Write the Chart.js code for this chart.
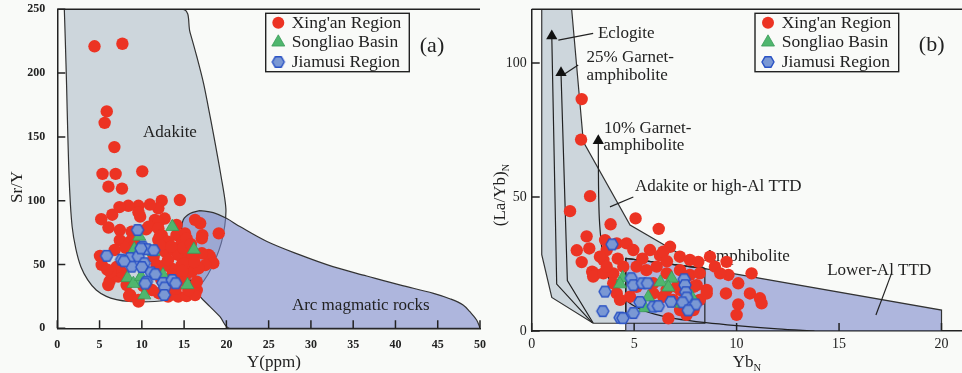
<!DOCTYPE html>
<html><head><meta charset="utf-8">
<script src="https://cdn.jsdelivr.net/npm/chart.js@4.4.1/dist/chart.umd.min.js"></script>
<style>
html,body{margin:0;padding:0;background:#f9faf8;}
#wrap{position:relative;width:962px;height:373px;overflow:hidden;}
#ca{position:absolute;left:0;top:0;}
#cb{position:absolute;left:484px;top:0;}
</style></head>
<body><div id="wrap"><canvas id="ca" width="490" height="373"></canvas><canvas id="cb" width="478" height="373"></canvas></div>
<script>
// ---------- Panel (a): Sr/Y vs Y ----------
const xinganA = [[4.4,221],[7.7,223],[5.85,170],[5.6,161],[6.75,142],[5.35,121],[6.9,121],[10.05,123],[6.05,111],[7.65,109.5],
[14.5,100.5],[12.35,100],[11.95,94],[10.95,97],[9.6,96],[8.4,96],[7.35,95],[6.5,89],[5.2,85.5],[6.05,79],
[9.8,87.5],[9.6,91],[12.7,86],[11.55,85],[11.95,83],[14.1,81],[16.9,82.3],[16.3,85],[17.15,73],[19.1,74.4],
[10.5,77.5],[10.8,79.6],[7.4,77],[8.8,75.7],[7.4,69],[8.6,68],[6.8,61.4],[11.95,78.4],[12.35,73],[14.1,73],[15.1,74.4],
[12.1,71.8],[11.95,69.2],[13.1,67.9],[14.7,66.6],[15.3,70.5],[17.1,70.5],
[5.05,56.7],[5.25,49.7],[6.2,37],[6.03,33.9],[7.2,40.5],[8.2,33.9],[8.6,26.1],[8.5,25.5],[9.6,21],[9.6,22.2],
[12.0,27.5],[13.1,24.8],[14.3,24.8],[14.1,26],[15.3,25.3],[16.5,30],[16.3,26.1],[16.3,33.9],[15.5,30],
[18.3,52],[17.9,57.5],[18.06,56.2],[18.45,51],[17.5,49.6],[17.1,58.8],
[12.74,60],[13.72,61.4],[14.3,57.5],[15.1,61.4],[15.5,54.9],[14.7,49.6],[13.5,47],[12.74,49.6],[13.7,41.8],[15.1,40.5],[15.9,44.4],[16.7,47],[16.5,36.5],
[11.4,56],[11.75,49.6],[15.1,50.9],[13.1,53.5],[14.3,36.5],[13.1,33.9],[12.2,65],[13.5,64],[14.9,63],[16.0,58],[16.2,52],[12.0,44],[11.2,30],[14.8,45],[15.8,66],[12.3,38],[14.0,31],[10.2,33],[7.6,44],[7.0,48],[8.1,63],[9.2,66],[6.3,44],[5.9,46]];
const songliaoA = [[13.6,79.6],[9.7,72],[9.1,62],[16.15,61.7],[11.4,60],[8.3,39.5],[9.6,36.5],[9.0,35],[9.9,40.5],[10.3,26],[15.4,34],[12.5,41.8]];
const jiamusiA = [[9.5,77],[5.84,56.8],[7.6,53.8],[8.6,55],[9.58,56.3],[8.8,48.3],[10.1,64],[10.6,62],[11.4,61.2],[10.3,51],[10.0,48],[11.1,43.8],[11.6,42.4],[10.55,36.5],[10.4,35.1],[12.5,35.6],[12.7,32],[12.65,26.1],[13.6,37.9],[14.0,35.3],[7.9,52.5],[9.9,62.6]];
const adakiteFieldA = [[0.83,250],[0.95,225],[1.1,190],[1.25,150],[1.45,110],[1.75,80],[2.2,62],[2.8,48],[3.6,38],[4.6,30],[5.8,25],[7.0,22.5],[8.5,21],[10,20.7],[11.5,21],[12.8,21.8],[14.3,23.5],[15.6,27],[16.8,33],[17.8,42],[18.7,54],[19.4,67],[19.8,80],[19.95,92],[19.8,102],[19.4,118],[18.95,135],[18.45,153],[17.9,172],[17.3,192],[16.5,213],[15.7,232],[14.9,250],[0.83,250]];
const arcFieldA = [[16.9,92.2],[15.7,90],[14.9,85],[14.7,74.5],[14.83,58.8],[15.2,45.7],[15.9,35.3],[16.9,24.8],[18.06,17],[19.24,9.1],[20.4,0],[35,0],[50,0],[49.6,6.5],[48.8,13],[48,18.3],[46.5,23],[44.5,27.4],[40.5,34],[36.6,41],[32.6,48.3],[28.7,57.5],[24.8,68],[21.6,79.7],[20,86.2],[18.45,90.6],[16.9,92.2]];
const xTicksA = [0,5,10,15,20,25,30,35,40,45,50];
const yTicksA = [0,50,100,150,200,250];

// ---------- Panel (b): (La/Yb)N vs YbN ----------
const xinganB = [[2.44,86.5],[2.41,71.4],[2.85,50.3],[1.87,44.7],[3.85,39.8],[5.07,42],[6.2,38.1],[2.68,35.3],[2.81,30.8],[2.2,30.1],[2.44,25.7],[2.95,22.1],[3.1,21.2],
[3.58,33.9],[3.66,30.2],[3.5,26.5],[4.15,32.7],[4.63,32.7],[4.96,30.2],[5.77,30.2],[6.26,28.2],[6.75,31.4],[3.0,20.3],
[6.42,29.6],[7.23,27.7],[7.72,26.5],[8.13,25.8],[8.7,27.7],[9.51,25.8],[8.94,24],[10.73,21.5],[9.6,20.9],[9.2,21.5],[10.08,17.8],[9.48,14],[10.65,14],[11.14,12.2],[11.22,10.3],[10.08,9.9],[10.0,6],[8.54,15.3],[8.05,17.1],[6.67,4.7],[7.56,6],
[3.33,27.7],[3.5,21.5],[3.98,21.5],[4.47,24],[5.12,24],[5.6,22.7],[6.1,24],[6.59,21.5],[7.24,22.7],[7.72,20.9],[8.2,21.5],[7.9,16.5],[7.24,15.3],[6.9,11.6],[6.42,12.8],[5.93,14],[7.24,7.8],[7.9,7.8],[8.2,11.6],[8.54,14],[4.8,12.8],[7.07,16.5],[6.59,15.3],[5.93,17.8],[5.12,16.5],[3.98,17.8],[4.15,14],[4.31,11.6],[3.66,24],[4.2,27],[5.4,27],[6.6,26]];
const songliaoB = [[4.44,19.8],[4.31,17.5],[6.28,18.2],[6.83,19.6],[6.67,16.3],[5.69,12.6],[5.53,8.6],[7.32,10.3],[7.8,12.8]];
const jiamusiB = [[3.92,32.3],[3.58,14.7],[3.47,7.4],[4.31,5.0],[4.45,4.8],[4.86,19.7],[4.96,17.1],[5.4,17.8],[5.65,17.8],[5.28,10.8],[5.93,9.1],[6.18,9.3],[4.96,6.7],[6.8,10.9],[7.44,19.3],[7.48,17.1],[7.52,14.5],[7.56,12.5],[7.36,10.7],[8.0,9.9],[7.64,7.7]];
const highAlFieldB = [[0.49,120],[0.49,28.5],[0.98,12.5],[3.0,2.9],[4.59,2.9],[4.59,27.1],[8.45,23.3],[4.8,39.5],[2.52,70.6],[1.95,120],[0.49,120]];
const lowAlFieldB = [[4.59,27.1],[8.45,23.3],[20,7.8],[20,0],[4.59,0],[4.59,27.1]];
const amphBoxB = [[4.59,27.1],[8.45,23.3],[8.45,2.9],[4.59,2.9],[4.59,27.1]];
const eclogiteTrend = [[0.98,110],[1.22,17.5],[2.95,3.1]];
const garnet25Trend = [[1.43,96.3],[1.74,18.8],[3.0,3.0]];
const garnet10Trend = [[3.25,71],[3.26,55],[3.3,42],[3.42,31],[3.55,24],[3.8,19],[4.1,15.5],[4.6,11.5],[5.2,8.5],[6.0,6.3],[7.0,4.6],[8.5,3.1],[10,2],[12,0.8],[13.8,0]];
const leaderEclogite = [[1.3,108.5],[3.0,111]];
const leader25 = [[1.62,96],[2.27,99.2]];
const leaderAdakite = [[3.82,46.3],[4.96,50]];
const leaderLowAl = [[17.56,21.5],[16.8,6]];
const xTicksB = [0,5,10,15,20];
const yTicksB = [0,50,100];

// ---------- styling ----------
const FONT = '"Liberation Serif","Times New Roman",serif';
const INK = '#222';
const RED = '#ec3323', GREEN = '#4fb66e', GREEN_E = '#3a9a58', BLUE = '#7a98d4', BLUE_E = '#2a52c4';
const GREYF = '#cdd6dc', LAVF = 'rgba(124,136,204,0.6)';

function pts(a){ return a.map(p => ({x:p[0], y:p[1]})); }
function makeHex(r){
  const s = Math.ceil(r*2+4);
  const c = document.createElement('canvas'); c.width = s; c.height = s;
  const g = c.getContext('2d'); const cx = s/2, cy = s/2;
  g.beginPath();
  for (let i=0;i<6;i++){ const a = Math.PI/3*i; const x = cx + r*Math.cos(a), y = cy + r*Math.sin(a); if(i) g.lineTo(x,y); else g.moveTo(x,y); }
  g.closePath(); g.fillStyle = BLUE; g.fill(); g.lineWidth = 1.4; g.strokeStyle = BLUE_E; g.stroke();
  return c;
}
const HEX = makeHex(6);

function pointSets(x, s, j){
  return [
    {label:'Jiamusi Region', data:pts(j), pointStyle:HEX, pointRadius:6, order:0},
    {label:'Songliao Basin', data:pts(s), pointStyle:'triangle', pointRadius:7.5, backgroundColor:GREEN, borderColor:GREEN_E, borderWidth:0.8, order:1},
    {label:"Xing'an Region", data:pts(x), pointStyle:'circle', pointRadius:6.2, backgroundColor:RED, borderColor:RED, borderWidth:0, order:2}
  ];
}
function region(label, d, color, tension, order){
  return {label, data:pts(d), showLine:true, fill:'shape', backgroundColor:color, borderColor:'#333', borderWidth:1.2, pointRadius:0, tension, order};
}
function line(label, d, arrow, tension){
  return {label, data:pts(d), showLine:true, fill:false, borderColor:INK, borderWidth:1.2, tension:tension||0, order:3,
    pointStyle:'triangle', pointRadius: c => (arrow && c.dataIndex===0) ? 6.5 : 0, pointBackgroundColor:'#111', pointBorderColor:'#111', pointBorderWidth:0};
}
function axis(min, max, step, fitSize, isY, pad, fsize, fweight){
  return {type:'linear', min, max,
    afterFit: s => {
      if (isY) { s.width = fitSize; s.paddingTop = 0; s.paddingBottom = 0; }
      else { s.height = fitSize; s.paddingLeft = 0; s.paddingRight = 0; }
    },
    ticks:{stepSize:step, includeBounds:false, padding:pad, color:INK, font:{family:FONT, size:fsize, weight:fweight}, maxRotation:0, autoSkip:false},
    grid:{display:false, drawTicks:false},
    border:{display:true, color:INK, width:1.5}};
}

function drawText(ctx, t, x, y, size, align){
  ctx.font = size + 'px ' + FONT; ctx.fillStyle = INK; ctx.textAlign = align || 'left'; ctx.textBaseline = 'middle';
  ctx.fillText(t, x, y);
}
function drawSubText(ctx, cx, cy, main, sub, size, rot){
  ctx.save(); ctx.translate(cx, cy); if (rot) ctx.rotate(-Math.PI/2);
  ctx.fillStyle = INK; ctx.textBaseline = 'middle'; ctx.textAlign = 'left';
  ctx.font = size + 'px ' + FONT; const w1 = ctx.measureText(main).width;
  const ss = size*0.62;
  ctx.font = ss + 'px ' + FONT; const w2 = ctx.measureText(sub).width;
  const x0 = -(w1+w2)/2;
  ctx.font = size + 'px ' + FONT; ctx.fillText(main, x0, 0);
  ctx.font = ss + 'px ' + FONT; ctx.fillText(sub, x0 + w1, size*0.3);
  ctx.restore();
}
function drawFrameTicks(chart, xt, yt){
  const ctx = chart.ctx, a = chart.chartArea, xs = chart.scales.x, ys = chart.scales.y;
  ctx.save(); ctx.strokeStyle = INK; ctx.lineWidth = 1.5;
  ctx.beginPath(); ctx.moveTo(a.left, a.top); ctx.lineTo(a.right, a.top); ctx.stroke();
  ctx.beginPath();
  xt.forEach(v => { const p = xs.getPixelForValue(v); ctx.moveTo(p, a.bottom); ctx.lineTo(p, a.bottom-8); });
  yt.forEach(v => { const p = ys.getPixelForValue(v); ctx.moveTo(a.left, p); ctx.lineTo(a.left+8, p); });
  ctx.stroke(); ctx.restore();
}
function drawLegend(ctx, bx, by, bw, bh, mx, tx, rows){
  ctx.save(); ctx.strokeStyle = INK; ctx.lineWidth = 1.4; ctx.strokeRect(bx, by, bw, bh);
  rows.forEach(r => {
    if (r.k === 'c'){ ctx.beginPath(); ctx.arc(mx, r.y, 6, 0, Math.PI*2); ctx.fillStyle = RED; ctx.fill(); }
    else if (r.k === 't'){ const R = 7.5; ctx.beginPath(); ctx.moveTo(mx, r.y-R); ctx.lineTo(mx+R*0.866, r.y+R/2); ctx.lineTo(mx-R*0.866, r.y+R/2); ctx.closePath(); ctx.fillStyle = GREEN; ctx.fill(); ctx.strokeStyle = GREEN_E; ctx.lineWidth = 0.8; ctx.stroke(); }
    else { ctx.drawImage(HEX, mx-HEX.width/2, r.y-HEX.height/2); }
    drawText(ctx, r.t, tx, r.y+0.5, 17.5);
  });
  ctx.restore();
}

// ---------- Chart (a) ----------
const decorA = {
  id:'decorA',
  beforeDatasetDraw(chart, args){
    if (chart.data.datasets[args.index].label !== "Xing'an Region") return;
    const ctx = chart.ctx, xs = chart.scales.x, ys = chart.scales.y;
    ctx.save();
    drawText(ctx, 'Adakite', xs.getPixelForValue(13.33), ys.getPixelForValue(153.8), 17, 'center');
    drawText(ctx, 'Arc magmatic rocks', xs.getPixelForValue(35.9), ys.getPixelForValue(17.5), 17, 'center');
    ctx.restore();
  },
  afterDraw(chart){
    const ctx = chart.ctx;
    drawFrameTicks(chart, xTicksA, yTicksA);
    ctx.save();
    drawLegend(ctx, 265.7, 13.3, 143.6, 58.4, 278.3, 291.7, [{k:'c', t:"Xing'an Region", y:22.7},{k:'t', t:'Songliao Basin', y:42.3},{k:'h', t:'Jiamusi Region', y:62}]);
    drawText(ctx, '(a)', 432, 46.7, 22, 'center');
    ctx.save(); ctx.translate(18, 187); ctx.rotate(-Math.PI/2); drawText(ctx, 'Sr/Y', 0, 0, 17, 'center'); ctx.restore();
    drawText(ctx, 'Y(ppm)', 274, 363, 17, 'center');
    ctx.restore();
  }
};
new Chart(document.getElementById('ca'), {
  type:'scatter',
  data:{datasets:[...pointSets(xinganA, songliaoA, jiamusiA),
    region('Arc magmatic rocks field', arcFieldA, LAVF, 0.35, 4),
    region('Adakite field', adakiteFieldA, GREYF, 0.35, 5)]},
  options:{responsive:false, animation:false, events:[],
    layout:{autoPadding:false, padding:{top:9.3, right:10, left:0, bottom:0}},
    plugins:{legend:{display:false}, tooltip:{enabled:false}},
    scales:{x:axis(0, 50, 5, 44.7, false, 9, 12, 'bold'), y:axis(0, 250, 50, 57.3, true, 12, 12, 'bold')}},
  plugins:[decorA]
});

// ---------- Chart (b) ----------
const OX = 484;
const decorB = {
  id:'decorB',
  beforeDatasetDraw(chart, args){
    if (chart.data.datasets[args.index].label !== "Xing'an Region") return;
    const ctx = chart.ctx, xs = chart.scales.x, ys = chart.scales.y;
    const L = (t, x, y) => drawText(ctx, t, xs.getPixelForValue(x), ys.getPixelForValue(y), 17);
    ctx.save();
    L('Eclogite', 3.23, 111.1);
    L('25% Garnet-', 2.68, 102);
    L('amphibolite', 2.68, 95.4);
    L('10% Garnet-', 3.53, 75.5);
    L('amphibolite', 3.49, 69);
    L('Adakite or high-Al TTD', 5.04, 53.8);
    L('Amphibolite', 8.4, 27.7);
    L('Lower-Al TTD', 14.42, 22.5);
    ctx.restore();
  },
  afterDraw(chart){
    const ctx = chart.ctx;
    drawFrameTicks(chart, xTicksB, yTicksB);
    ctx.save();
    drawLegend(ctx, 755-OX, 13.3, 143.7, 58.4, 768-OX, 781.7-OX, [{k:'c', t:"Xing'an Region", y:22.7},{k:'t', t:'Songliao Basin', y:42.3},{k:'h', t:'Jiamusi Region', y:62}]);
    drawText(ctx, '(b)', 931.7-OX, 45, 22, 'center');
    drawSubText(ctx, 501-OX, 195, '(La/Yb)', 'N', 17, true);
    drawSubText(ctx, 747-OX, 363, 'Yb', 'N', 17, false);
    ctx.restore();
  }
};
new Chart(document.getElementById('cb'), {
  type:'scatter',
  data:{datasets:[...pointSets(xinganB, songliaoB, jiamusiB),
    line('Eclogite', eclogiteTrend, true),
    line('25% Garnet-amphibolite', garnet25Trend, true),
    line('10% Garnet-amphibolite', garnet10Trend, true, 0.3),
    line('Amphibolite', amphBoxB, false),
    line('leader1', leaderEclogite, false),
    line('leader2', leader25, false),
    line('leader3', leaderAdakite, false),
    line('leader4', leaderLowAl, false),
    region('Lower-Al TTD field', lowAlFieldB, LAVF, 0, 4),
    region('Adakite or high-Al TTD field', highAlFieldB, GREYF, 0, 5)]},
  options:{responsive:false, animation:false, events:[],
    layout:{autoPadding:false, padding:{top:9.3, right:0, left:0, bottom:0}},
    plugins:{legend:{display:false}, tooltip:{enabled:false}},
    scales:{x:axis(0, 21, 5, 42, false, 5, 14, 'normal'), y:axis(0, 120, 50, 47.7, true, 5, 14, 'normal')}},
  plugins:[decorB]
});
</script>
</body></html>
